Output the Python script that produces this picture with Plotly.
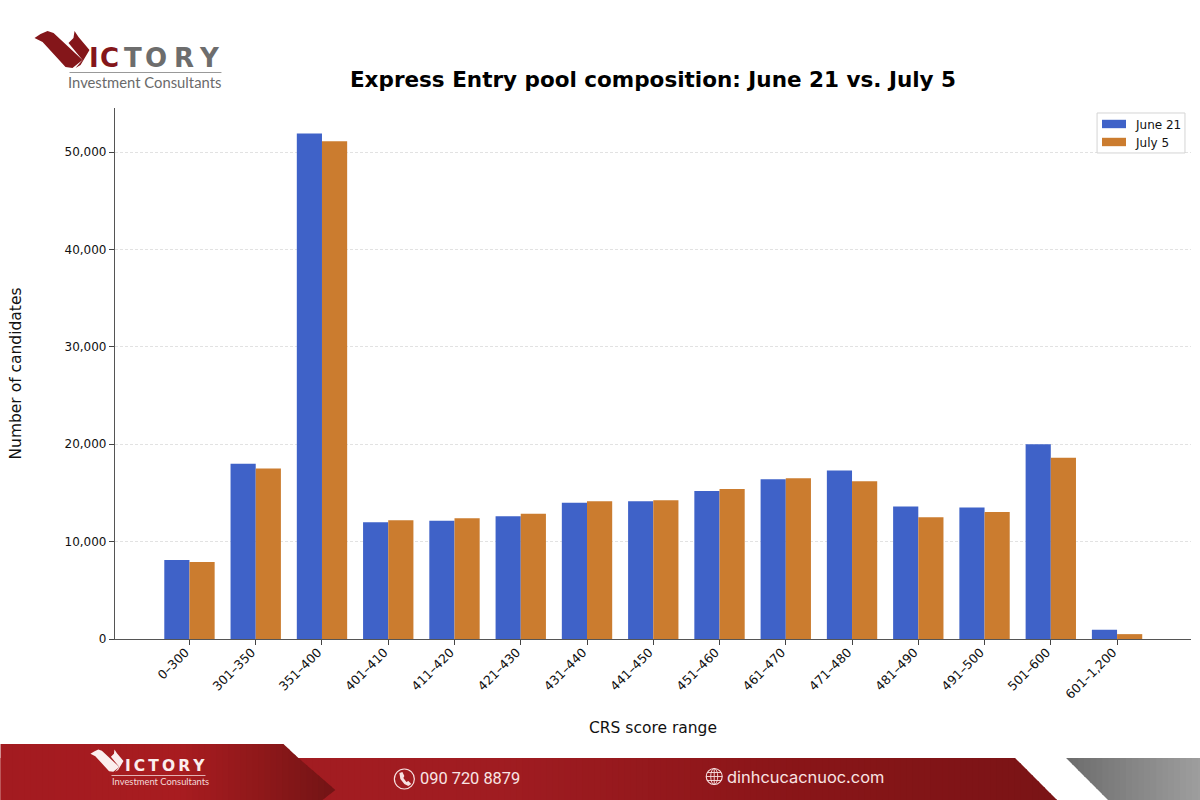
import plotly.graph_objects as go

# Express Entry pool by CRS score band
score_ranges = ["0–300", "301–350", "351–400", "401–410", "411–420", "421–430", "431–440",
                "441–450", "451–460", "461–470", "471–480", "481–490", "491–500", "501–600", "601–1,200"]
june_21 = [8100, 18000, 51900, 12000, 12150, 12600, 14000, 14150, 15200, 16400, 17300, 13600, 13500, 20000, 950]
july_5 = [7900, 17500, 51100, 12200, 12400, 12850, 14150, 14250, 15400, 16500, 16200, 12500, 13050, 18600, 500]

BLUE = "#3f62c8"
ORANGE = "#cb7c2f"
FONT = "DejaVu Sans"
W, H = 1200, 800
M_L, M_R, M_T, M_B = 114.5, 9, 108, 161


def px(x, y):
    """Pixel position on the page to paper coordinates."""
    return (x - M_L) / (W - M_L - M_R), 1 - (y - M_T) / (H - M_T - M_B)


def poly(points, color, line=None):
    path = "M" + "L".join("{:.4f},{:.4f}".format(*px(*p)) for p in points) + "Z"
    return dict(type="path", xref="paper", yref="paper", path=path,
                fillcolor=color, line=line or dict(width=0), layer="above")


def hline(x0, x1, y, color, width):
    return dict(type="line", xref="paper", yref="paper", x0=px(x0, 0)[0], x1=px(x1, 0)[0],
                y0=px(0, y)[1], y1=px(0, y)[1], line=dict(color=color, width=width), layer="above")


def clip_x(points, x0, x1):
    """Clip a convex polygon to a vertical strip."""
    def clip(pts, inside, edge):
        out = []
        for i, a in enumerate(pts):
            b = pts[(i + 1) % len(pts)]
            if inside(a):
                out.append(a)
            if inside(a) != inside(b):
                t = (edge - a[0]) / (b[0] - a[0])
                out.append((edge, a[1] + t * (b[1] - a[1])))
        return out
    pts = clip(points, lambda p: p[0] >= x0, x0)
    return clip(pts, lambda p: p[0] <= x1, x1) if pts else []


def lerp_color(stops, x):
    for (x0, c0), (x1, c1) in zip(stops, stops[1:]):
        if x <= x1:
            t = max(0, (x - x0) / (x1 - x0))
            return "rgb({},{},{})".format(*[round(a + t * (b - a)) for a, b in zip(c0, c1)])
    return "rgb({},{},{})".format(*stops[-1][1])


def gradient(points, stops, step=6):
    shapes = []
    xs = [p[0] for p in points]
    x = min(xs)
    while x < max(xs):
        piece = clip_x(points, x, min(x + step + 1, max(xs)))
        if len(piece) >= 3:
            shapes.append(poly(piece, lerp_color(stops, x + step / 2)))
        x += step
    return shapes


def label(x, y, text, size, color, family=FONT, anchor="left", **kw):
    ax, ay = px(x, y)
    return dict(xref="paper", yref="paper", x=ax, y=ay, text=text, showarrow=False,
                xanchor=anchor, yanchor="middle", font=dict(size=size, color=color, family=family),
                borderpad=0, **kw)


# Chevron of the company mark, defined for the header and rescaled for the footer
CHEVRON_LEFT = [(34, 38), (40, 34), (47, 31), (53, 33), (82, 60), (72, 68), (65, 67), (42, 42)]
CHEVRON_RIGHT = [(74, 31), (78, 37), (89, 50), (80, 65), (75, 68), (82, 60), (68, 43), (73, 38)]


def footer_pt(p):
    return 90 + (p[0] - 34) * 0.6, 749 + (p[1] - 30) * 0.6


shapes = []
# Footer band
shapes += gradient([(0, 758), (1015, 758), (1057, 800), (0, 800)],
                   [(0, (166, 28, 34)), (500, (160, 28, 33)), (800, (137, 21, 24)), (1057, (122, 20, 22))])
shapes += gradient([(0, 744), (283, 744), (298, 758), (335, 790), (322, 800), (0, 800)],
                   [(0, (163, 27, 32)), (180, (168, 28, 32)), (260, (143, 24, 26)), (335, (114, 20, 21))])
shapes += gradient([(1066, 758), (1200, 758), (1200, 800), (1108, 800)],
                   [(1066, (108, 108, 108)), (1200, (158, 158, 158))])
# Header mark
shapes += [poly(CHEVRON_LEFT, "#84161a"), poly(CHEVRON_RIGHT, "#84161a")]
shapes.append(hline(69, 221, 72.5, "#999999", 1))
# Footer mark
shapes += [poly([footer_pt(p) for p in CHEVRON_LEFT], "#fbeeee"),
           poly([footer_pt(p) for p in CHEVRON_RIGHT], "#fbeeee")]
shapes.append(hline(111, 205, 775.5, "#f3d9d9", 0.8))


def circle(cx, cy, rx, ry, color, width):
    x0, y0 = px(cx - rx, cy - ry)
    x1, y1 = px(cx + rx, cy + ry)
    return dict(type="circle", xref="paper", yref="paper", x0=x0, y0=y0, x1=x1, y1=y1,
                line=dict(color=color, width=width), layer="above")


ICON = "#f7e1e1"
# Phone icon
shapes.append(circle(404, 779, 10, 10, ICON, 1.2))
shapes.append(poly([(399, 773), (402, 772), (404, 776), (403, 778), (406, 782), (408, 781), (411, 784),
                    (408, 786), (404, 784), (400, 779)], ICON))
# Globe icon
shapes.append(circle(714, 776.5, 8, 8, ICON, 1.1))
shapes.append(circle(714, 776.5, 3.5, 8, ICON, 0.9))
for gy, half in ((772.5, 6.8), (776.5, 8), (780.5, 6.8)):
    shapes.append(hline(714 - half, 714 + half, gy, ICON, 0.9))
shapes.append(dict(type="line", xref="paper", yref="paper", x0=px(714, 0)[0], x1=px(714, 0)[0],
                   y0=px(0, 768.5)[1], y1=px(0, 784.5)[1], line=dict(color=ICON, width=0.9), layer="above"))

# Legend box and keys
LEGEND_ITEMS = [("June 21", BLUE, 124), ("July 5", ORANGE, 142)]
shapes.append(poly([(1097, 113), (1185, 113), (1185, 153), (1097, 153)], "white",
                   dict(color="#d4d4d4", width=1)))
for _, color, cy in LEGEND_ITEMS:
    shapes.append(poly([(1102, cy - 4.2), (1126, cy - 4.2), (1126, cy + 4.2), (1102, cy + 4.2)], color))

annotations = [label(1134, cy + 0.5, name, 12, "#111111") for name, _, cy in LEGEND_ITEMS]

# Lettering of the header mark, placed glyph by glyph to span the wide logotype
for ch, cx, color in (("I", 93, "#84161a"), ("C", 108.5, "#84161a"), ("T", 132.5, "#6d6d6d"),
                      ("O", 156, "#6d6d6d"), ("R", 184, "#6d6d6d"), ("Y", 209, "#6d6d6d")):
    annotations.append(label(cx, 58, "<b>" + ch + "</b>", 26, color, anchor="center"))
annotations += [
    label(66.5, 82, "Investment Consultants", 14.8, "#6a6a6a", "Lato"),
    label(123.5, 765.5, "<b>" + "\u2009".join("ICTORY") + "</b>", 15.5, "#fbeeee"),
    label(110, 781, "Investment Consultants", 9.4, "#f3d9d9", "Lato"),
    label(419, 778.5, "090 720 8879", 16.4, "#f9e4e4", "Roboto"),
    label(726, 776.5, "dinhcucacnuoc.com", 16.4, "#f9e4e4", "Inter"),
]

fig = go.Figure()
fig.add_bar(name="June 21", x=score_ranges, y=june_21, marker=dict(color=BLUE, line=dict(width=0)))
fig.add_bar(name="July 5", x=score_ranges, y=july_5, marker=dict(color=ORANGE, line=dict(width=0)))

fig.update_layout(
    width=W, height=H, autosize=False,
    margin=dict(l=M_L, r=M_R, t=M_T, b=M_B, pad=0, autoexpand=False),
    paper_bgcolor="white", plot_bgcolor="white",
    font=dict(family=FONT, size=12, color="#111111"),
    barmode="group", bargap=0.24, bargroupgap=0, showlegend=False,
    title=dict(text="<b>Express Entry pool composition: June 21 vs. July 5</b>",
               font=dict(size=21.5, color="#000000", family=FONT),
               x=0.5, xref="paper", xanchor="center", y=1 - 79 / H, yref="container", yanchor="middle"),
    xaxis=dict(
        title=dict(text="CRS score range", font=dict(size=15.5, color="#111111"), standoff=21),
        type="category", range=[-1.124, 15.116], tickangle=-45,
        tickfont=dict(size=12.5, color="#111111"), ticklabelshift=-4, ticklabelstandoff=-5,
        ticks="outside", ticklen=5, tickcolor="#444444", tickwidth=1,
        showline=True, linecolor="#555555", linewidth=1.2, showgrid=False, zeroline=False,
    ),
    yaxis=dict(
        title=dict(text="Number of candidates", font=dict(size=15.5, color="#111111"), standoff=39),
        range=[0, 54520], tick0=0, dtick=10000, tickformat=",",
        tickfont=dict(size=12, color="#111111"),
        ticks="outside", ticklen=5, tickcolor="#444444", tickwidth=1,
        showline=True, linecolor="#555555", linewidth=1.2,
        showgrid=True, gridcolor="#e2e2e2", griddash="3px,2px", gridwidth=0.7, zeroline=False,
    ),
    shapes=shapes, annotations=annotations,
)

fig.write_html("out.html", config=dict(displayModeBar=False))
